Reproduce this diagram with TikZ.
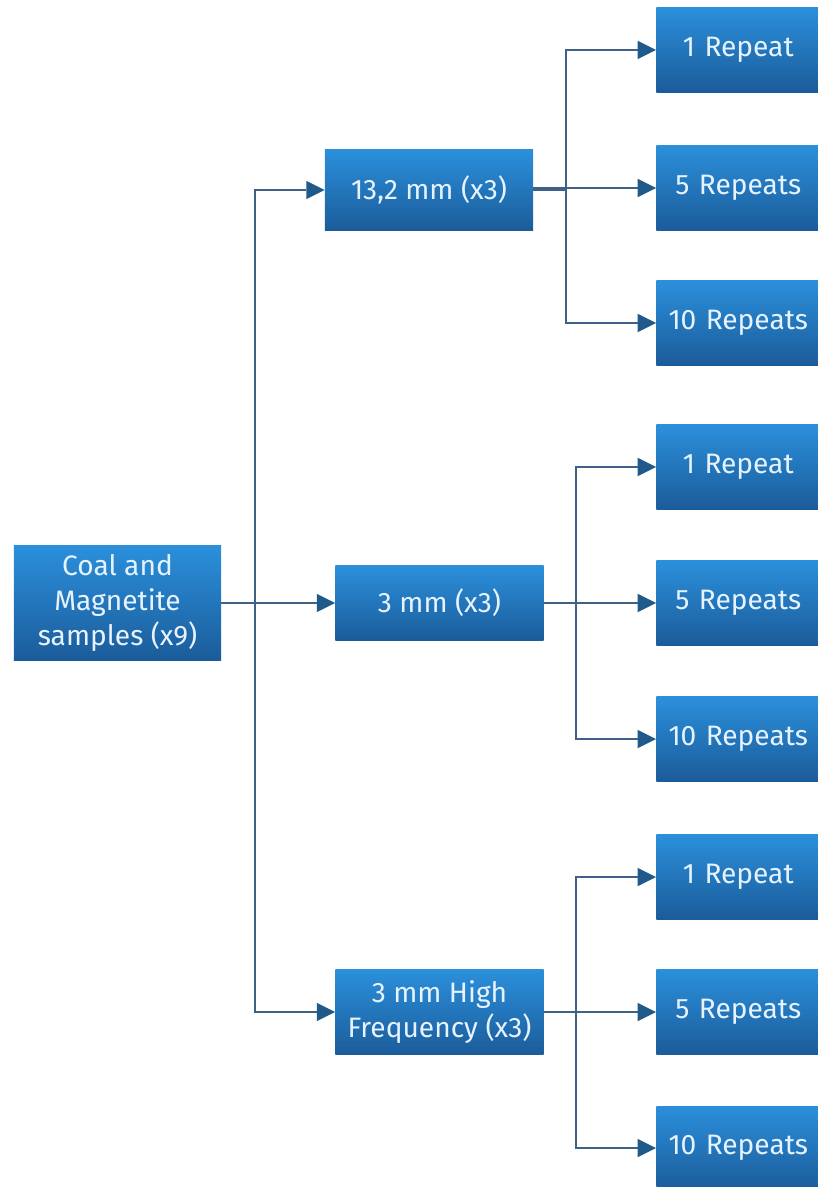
\documentclass[tikz,border=0pt]{standalone}
\usepackage{fontspec}
\setmainfont{Fira Sans}
\usetikzlibrary{arrows.meta,positioning,shadings}
\definecolor{boxtop}{HTML}{2B8FDB}
\definecolor{boxbot}{HTML}{1B5C9A}
\definecolor{linkcol}{HTML}{3D6285}
\definecolor{tipcol}{HTML}{1F5A8A}
\definecolor{txtcol}{HTML}{E6F3FF}
\tikzset{%
	block/.style  = {rectangle, top color=boxtop, bottom color=boxbot, draw=none,
	                 text=txtcol, align=center, font=\fontsize{20}{25}\selectfont,
	                 inner sep=2pt},
	root/.style   = {block, minimum width=5.175cm, minimum height=2.85cm},
	size/.style   = {block, minimum width=5.2cm, minimum height=2cm},
	leaf/.style   = {block, minimum width=4.1cm, minimum height=2.1cm, text width=3.9cm},
	link/.style   = {draw=linkcol, line width=1.5pt},
	arrow/.style  = {link, -{Triangle[length=13pt,width=13pt,fill=tipcol,line width=0pt]}},
}
\begin{document}
\begin{tikzpicture}[x=0.025cm,y=-0.025cm]
	\useasboundingbox (0,0) rectangle (817,1187);
	% root and size classes
	\node [root] (coal) at (117.5,603) {Coal and\\Magnetite\\samples (x9)};
	\node [size] (big) at (429,190) {13,2 mm (x3)};
	\node [size, minimum height=1.85cm] (fine) at (439.5,603) {3 mm (x3)};
	\node [size, minimum height=2.12cm] (hf) at (439.5,1012) {3 mm High\\Frequency (x3)};
	% repeats
	\node [leaf, anchor=west] (big1) at (656,50) {1 Repeat};
	\node [leaf, anchor=west] (big5) at (656,188) {5 Repeats};
	\node [leaf, anchor=west] (big10) at (656,323) {10 Repeats};
	\node [leaf, anchor=west] (fine1) at (656,467) {1 Repeat};
	\node [leaf, anchor=west] (fine5) at (656,603) {5 Repeats};
	\node [leaf, anchor=west] (fine10) at (656,739) {10 Repeats};
	\node [leaf, anchor=west] (hf1) at (656,877) {1 Repeat};
	\node [leaf, anchor=west] (hf5) at (656,1012) {5 Repeats};
	\node [leaf, anchor=west] (hf10) at (656,1148) {10 Repeats};
	% branch points
	\coordinate (trunk) at (255,603);
	\coordinate (bigfork) at (566,190);
	\coordinate (finefork) at (576,603);
	\coordinate (hffork) at (576,1012);

	\draw[link] (coal) -- (trunk);
	\draw[arrow] (trunk) -- (fine);
	\draw[arrow] (trunk) |- (big);
	\draw[arrow] (trunk) |- (hf);

	\draw[link] (big) -- (bigfork);
	\draw[arrow] (bigfork) |- (big1);
	\draw[arrow] (big.east |- big5) -- (big5);
	\draw[arrow] (bigfork) |- (big10);

	\draw[link] (fine) -- (finefork);
	\draw[arrow] (finefork) |- (fine1);
	\draw[arrow] (finefork) -- (fine5);
	\draw[arrow] (finefork) |- (fine10);

	\draw[link] (hf) -- (hffork);
	\draw[arrow] (hffork) |- (hf1);
	\draw[arrow] (hffork) -- (hf5);
	\draw[arrow] (hffork) |- (hf10);
\end{tikzpicture}
\end{document}
